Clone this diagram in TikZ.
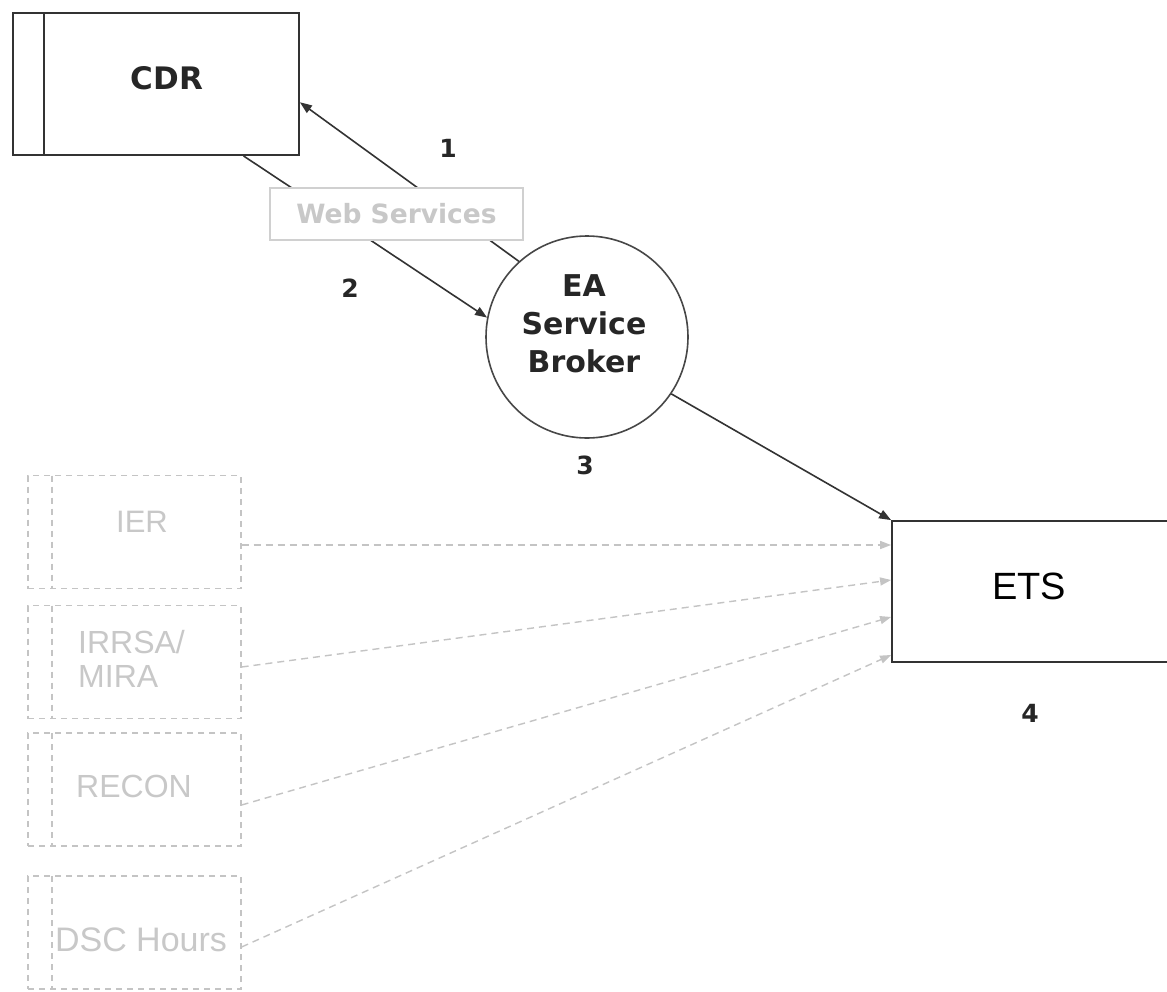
\documentclass[tikz,border=0pt]{standalone}
\usepackage{fontspec}
\setmainfont{Liberation Sans}
\newfontfamily\vfont{DejaVu Sans}
\usetikzlibrary{calc,arrows.meta}
\definecolor{lineclr}{HTML}{333333}
\definecolor{faint}{HTML}{C4C4C4}
\definecolor{fainttext}{HTML}{C8C8C8}
\tikzset{
  store/.style={draw=lineclr, line width=1.8pt, rectangle, inner sep=0pt,
    minimum width=286pt, minimum height=142pt,
    path picture={\draw[lineclr, line width=1.5pt]
      ([xshift=31pt]path picture bounding box.north west) --
      ([xshift=31pt]path picture bounding box.south west);}},
  dstore/.style={draw=faint, line width=1.2pt, dash pattern=on 6pt off 5pt,
    rectangle, inner sep=0pt, minimum width=213pt, minimum height=113pt,
    path picture={\draw[faint, line width=1.2pt, dash pattern=on 6pt off 5pt]
      ([xshift=24pt]path picture bounding box.north west) --
      ([xshift=24pt]path picture bounding box.south west);}},
  flow/.style={draw=lineclr, line width=1.6pt,
    -{Triangle[length=12pt, width=9pt]}},
  dflow/.style={draw=faint, line width=1.4pt, dash pattern=on 7pt off 5pt,
    -{Triangle[length=11pt, width=8pt, fill=faint]}},
  boldlbl/.style={font=\vfont\bfseries\fontsize{30}{38}\selectfont, text=black!85,
    inner sep=0pt, align=center},
  numlbl/.style={font=\vfont\bfseries\fontsize{25}{28}\selectfont, text=black!85,
    inner sep=0pt},
  dlbl/.style={font=\fontsize{31}{33}\selectfont, text=fainttext, inner sep=0pt},
}
\begin{document}
\begin{tikzpicture}[x=1pt, y=-1pt]
  \clip (0,0) rectangle (1167,991);
  \fill[white] (0,0) rectangle (1167,991);

  % data store and process
  \node[store] (cdr) at (156,84) {};
  \node[font=\vfont\bfseries\fontsize{31}{34}\selectfont, text=black!85, inner sep=0pt] (cdrtxt) at (167,78) {CDR};

  \node[circle, draw=lineclr!90, line width=1.6pt, minimum size=202pt, inner sep=0pt] (br) at (587,337) {};
  \node[boldlbl] (brtxt) at (584,324) {EA\\Service\\Broker};

  \node[rectangle, draw=lineclr, line width=1.8pt, minimum width=320pt,
        minimum height=141pt, inner sep=0pt] (ets) at (1052,591.5) {};
  \node[font=\fontsize{38}{42}\selectfont, inner sep=0pt] (etstxt) at (1029,586) {ETS};

  % connectors between CDR and the broker
  \draw[flow] (br.132.6) -- ($(cdr.south east)!0.373!(cdr.north east)$);
  \draw[flow] ($(cdr.south west)!0.804!(cdr.south east)$) -- (br.169);
  \draw[flow] (br.-34) -- (ets.north west);

  % interface box over the two connectors
  \node[rectangle, draw=faint!80, fill=white, line width=1.2pt, minimum width=253pt,
        minimum height=52pt, inner sep=0pt,
        font=\vfont\bfseries\fontsize{26.5}{30}\selectfont, text=fainttext] (ws) at (396.5,214) {Web Services};

  % step numbers
  \node[numlbl] (n1) at (448,148) {1};
  \node[numlbl] (n2) at (350,288) {2};
  \node[numlbl] (n3) at (585,465) {3};
  \node[numlbl] (n4) at (1030,713) {4};

  % legacy feeds
  \node[dstore] (ier) at (134.5,532) {};
  \node[dstore] (irrsa) at (134.5,662) {};
  \node[dstore] (recon) at (134.5,789.5) {};
  \node[dstore] (dsc) at (134.5,932.5) {};

  \node[dlbl] (iertxt) at (142,522) {IER};
  \node[dlbl, align=left, anchor=west, font=\fontsize{32}{34}\selectfont] (irrsatxt) at (78,659) {IRRSA/\\MIRA};
  \node[dlbl, font=\fontsize{32}{34}\selectfont] (recontxt) at (134,786) {RECON};
  \node[dlbl, font=\fontsize{34}{36}\selectfont] (dsctxt) at (141,940) {DSC Hours};

  \draw[dflow] (ier.east |- 0,545) -- (ets.west |- 0,545);
  \draw[dflow] (irrsa.east |- 0,667) -- (ets.west |- 0,580);
  \draw[dflow] (recon.east |- 0,805) -- (ets.west |- 0,617);
  \draw[dflow] (dsc.east |- 0,947) -- (ets.west |- 0,655);
\end{tikzpicture}
\end{document}
